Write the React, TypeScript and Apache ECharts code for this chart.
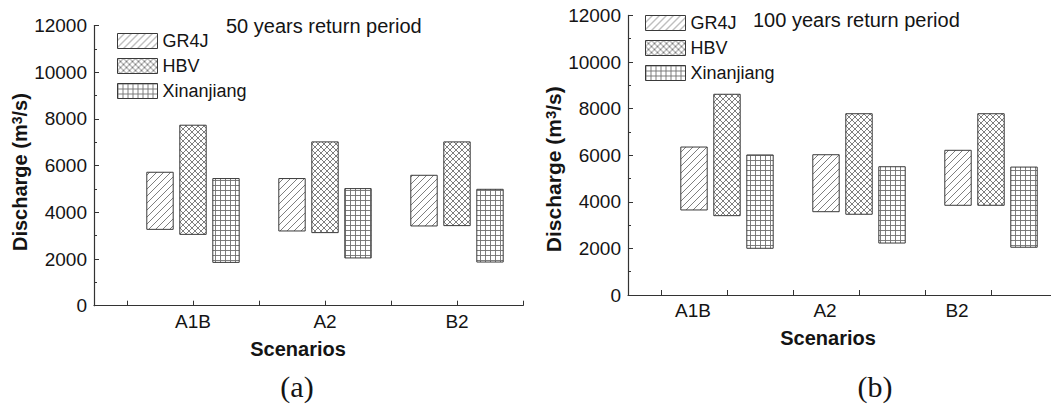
import React, { useEffect, useRef } from 'react';
import * as echarts from 'echarts';

// ---------------- data ----------------
const categories = ['A1B', 'A2', 'B2'];
const models = ['GR4J', 'HBV', 'Xinanjiang'];
const panelTitles = ['50 years return period', '100 years return period'];
const panelLetters = ['(a)', '(b)'];

// (a) 50 years return period: lower / upper discharge (m3/s)
const gr4jLow50 = [3270, 3200, 3415];
const gr4jHigh50 = [5715, 5445, 5585];
const hbvLow50 = [3055, 3130, 3430];
const hbvHigh50 = [7730, 7015, 7015];
const xajLow50 = [1855, 2045, 1870];
const xajHigh50 = [5445, 5015, 4985];

// (b) 100 years return period
const gr4jLow100 = [3650, 3575, 3850];
const gr4jHigh100 = [6350, 6020, 6210];
const hbvLow100 = [3405, 3465, 3850];
const hbvHigh100 = [8615, 7780, 7780];
const xajLow100 = [2005, 2230, 2050];
const xajHigh100 = [6010, 5505, 5490];

const yMin = 0;
const yMax = 12000;
const yInterval = 2000;

// ---------------- styles ----------------
const SANS = '"Liberation Sans", Arial, Helvetica, sans-serif';
const SERIF = '"Liberation Serif", "Times New Roman", serif';
const TEXT = '#141414';
const AXIS = '#333333';
const BORDER = '#3a3a3a';
const HATCH = '#707070';

function makePattern(kind: string) {
  const s = kind === 'grid' ? 5 : kind === 'cross' ? 6 : 7;
  const c = document.createElement('canvas');
  c.width = s;
  c.height = s;
  const g = c.getContext('2d')!;
  g.fillStyle = '#ffffff';
  g.fillRect(0, 0, s, s);
  g.strokeStyle = HATCH;
  g.lineWidth = 0.9;
  g.beginPath();
  if (kind === 'diag' || kind === 'cross') {
    g.moveTo(-1, s + 1);
    g.lineTo(s + 1, -1);
    g.moveTo(-1, 1);
    g.lineTo(1, -1);
    g.moveTo(s - 1, s + 1);
    g.lineTo(s + 1, s - 1);
  }
  if (kind === 'cross') {
    g.moveTo(-1, -1);
    g.lineTo(s + 1, s + 1);
    g.moveTo(s - 1, -1);
    g.lineTo(s + 1, 1);
    g.moveTo(-1, s - 1);
    g.lineTo(1, s + 1);
  }
  if (kind === 'grid') {
    g.moveTo(0.5, 0);
    g.lineTo(0.5, s);
    g.moveTo(0, 0.5);
    g.lineTo(s, 0.5);
  }
  g.stroke();
  return { image: c, repeat: 'repeat' };
}

export default function App() {
  const ref = useRef<HTMLDivElement>(null);

  useEffect(() => {
    document.body.style.margin = '0';
    if (!ref.current) return;
    const chart = echarts.init(ref.current, undefined, { renderer: 'svg' });

    const patterns = [makePattern('diag'), makePattern('cross'), makePattern('grid')];
    const offsets = [-0.25, 0, 0.25];
    const halfW = 0.1;

    const panels = [
      { lows: [gr4jLow50, hbvLow50, xajLow50], highs: [gr4jHigh50, hbvHigh50, xajHigh50] },
      { lows: [gr4jLow100, hbvLow100, xajLow100], highs: [gr4jHigh100, hbvHigh100, xajHigh100] },
    ];

    const xMin = 0.25;
    const xMaxs = [3.5, 3.4545];
    const tickVals = [0.5, 1, 1.5, 2, 2.5, 3, 3.5];

    const series: any[] = [];
    panels.forEach((p, pi) => {
      models.forEach((m, mi) => {
        series.push({
          type: 'custom',
          name: m,
          xAxisIndex: pi,
          yAxisIndex: pi,
          itemStyle: { color: patterns[mi], borderColor: BORDER, borderWidth: 1 },
          encode: { x: 0, y: [1, 2] },
          data: categories.map((c, ci) => [ci + 1 + offsets[mi], p.lows[mi][ci], p.highs[mi][ci]]),
          renderItem: (params: any, api: any) => {
            const x = api.value(0);
            const lo = api.value(1);
            const hi = api.value(2);
            const p1 = api.coord([x - halfW, hi]);
            const p2 = api.coord([x + halfW, lo]);
            return {
              type: 'rect',
              shape: { x: p1[0], y: p1[1], width: p2[0] - p1[0], height: p2[1] - p1[1] },
              style: { fill: patterns[mi], stroke: BORDER, lineWidth: 1 },
            };
          },
        });
      });
    });

    const xAxisFor = (pi: number) => ({
      type: 'value',
      gridIndex: pi,
      min: xMin,
      max: xMaxs[pi],
      axisLine: { show: true, onZero: false, lineStyle: { color: AXIS, width: 1.2 } },
      axisTick: {
        show: true,
        inside: true,
        length: 5,
        customValues: tickVals.filter((v) => v <= xMaxs[pi] + 1e-6),
        lineStyle: { color: AXIS, width: 1 },
      },
      axisLabel: {
        customValues: [1, 2, 3],
        formatter: (v: number) => categories[Math.round(v) - 1] ?? '',
        fontSize: 19,
        fontFamily: SANS,
        color: TEXT,
        margin: 6,
        padding: pi === 1 ? [0, 68, 0, 0] : 0,
      },
      splitLine: { show: false },
      name: 'Scenarios',
      nameLocation: 'middle',
      nameGap: 33,
      nameTextStyle: {
        fontSize: 20,
        fontWeight: 'bold',
        fontFamily: SANS,
        color: TEXT,
        padding: pi === 1 ? [0, 23, 0, 0] : [0, 21, 0, 0],
      },
    });

    const yAxisFor = (pi: number) => ({
      type: 'value',
      gridIndex: pi,
      min: yMin,
      max: yMax,
      interval: yInterval,
      axisLine: { show: true, onZero: false, lineStyle: { color: AXIS, width: 1.2 } },
      axisTick: { show: true, inside: true, length: 5, lineStyle: { color: AXIS, width: 1 } },
      minorTick: { show: true, splitNumber: 2, length: 3, lineStyle: { color: AXIS, width: 1 } },
      axisLabel: {
        fontSize: 19,
        fontFamily: SANS,
        color: TEXT,
        margin: 7,
        formatter: (v: number) => String(v),
      },
      splitLine: { show: false },
      name: '{a|Discharge (m}{s|3}{a|/s)}',
      nameLocation: 'middle',
      nameRotate: 90,
      nameGap: 51,
      nameTextStyle: {
        padding: pi === 1 ? [0, 28, 0, 0] : [0, 13, 0, 0],
        rich: {
          a: { fontSize: pi === 1 ? 21 : 20, fontWeight: 'bold', fontFamily: SANS, color: TEXT },
          s: { fontSize: pi === 1 ? 15 : 14, fontWeight: 'bold', fontFamily: SANS, color: TEXT, verticalAlign: 'top' },
        },
      },
    });

    const legendFor = (pi: number) => ({
      orient: 'vertical',
      left: pi === 0 ? 117 : 645,
      top: pi === 0 ? 32 : 14,
      padding: 0,
      data: models,
      icon: 'rect',
      itemWidth: 40,
      itemHeight: 15,
      itemGap: 7,
      selectedMode: false,
      itemStyle: { borderColor: BORDER, borderWidth: 1 },
      textStyle: { fontSize: 18, fontFamily: SANS, color: TEXT },
    });

    chart.setOption({
      animation: false,
      backgroundColor: '#ffffff',
      title: [
        {
          text: panelTitles[0],
          left: 226,
          top: 16,
          padding: 0,
          textStyle: { fontSize: 20, fontWeight: 'normal', fontFamily: SANS, color: TEXT },
        },
        {
          text: panelTitles[1],
          left: 753,
          top: 10,
          padding: 0,
          textStyle: { fontSize: 20, fontWeight: 'normal', fontFamily: SANS, color: TEXT },
        },
      ],
      legend: [legendFor(0), legendFor(1)],
      grid: [
        { left: 94, top: 25.5, width: 429, height: 280.2 },
        { left: 628, top: 15.4, width: 423, height: 279.6 },
      ],
      xAxis: [xAxisFor(0), xAxisFor(1)],
      yAxis: [yAxisFor(0), yAxisFor(1)],
      series,
      graphic: [
        {
          type: 'text',
          x: 297,
          y: 386,
          style: {
            text: panelLetters[0],
            fontSize: 30,
            fontFamily: SERIF,
            fill: TEXT,
            align: 'center',
            textAlign: 'center',
            verticalAlign: 'middle',
          },
        },
        {
          type: 'text',
          x: 875,
          y: 386,
          style: {
            text: panelLetters[1],
            fontSize: 30,
            fontFamily: SERIF,
            fill: TEXT,
            align: 'center',
            textAlign: 'center',
            verticalAlign: 'middle',
          },
        },
      ],
    });

    return () => chart.dispose();
  }, []);

  return <div ref={ref} style={{ width: 1051, height: 405 }} />;
}
